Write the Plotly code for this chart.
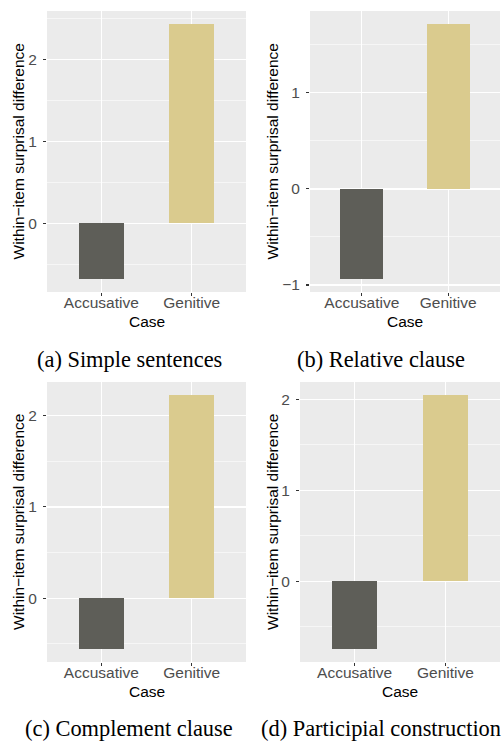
import plotly.graph_objects as go

cases = ["Accusative", "Genitive"]
simple_sentences = [-0.68, 2.43]
relative_clause = [-0.94, 1.72]
complement_clause = [-0.56, 2.23]
participial_construction = [-0.75, 2.05]
bar_colors = ["#5E5E58", "#DACB8E"]

panels = [
    ("(a) Simple sentences", simple_sentences),
    ("(b) Relative clause", relative_clause),
    ("(c) Complement clause", complement_clause),
    ("(d) Participial construction", participial_construction),
]

W, H = 502, 741
# plot-area boxes in pixels: (left, right, top, bottom)
boxes = [(47, 246, 11, 292), (310, 500, 11, 292), (47, 246, 382, 662), (300, 500, 382, 662)]
ytitle_x = [18, 272, 18, 272]
caption_pos = [(129, 359), (381, 359), (129, 728), (381, 728)]

SANS = "Liberation Sans, Arial, Helvetica, sans-serif"
SERIF = "Liberation Serif, Times New Roman, serif"

fig = go.Figure()
annotations = []
for i, ((caption, vals), (l, r, t, b)) in enumerate(zip(panels, boxes)):
    n = "" if i == 0 else str(i + 1)
    fig.add_trace(go.Bar(
        x=cases, y=vals, width=0.5, marker=dict(color=bar_colors, line=dict(width=0)),
        xaxis="x" + n, yaxis="y" + n, showlegend=False, hoverinfo="skip",
    ))
    lo = min(min(vals), 0)
    hi = max(max(vals), 0)
    pad = 0.05 * (hi - lo)
    fig.update_layout(**{
        "xaxis" + n: dict(
            domain=[l / W, r / W], anchor="y" + n, type="category", automargin=False,
            range=[-0.6, 1.6], showgrid=True, gridcolor="white", gridwidth=1.1,
            ticks="outside", ticklen=3, tickwidth=1.07, tickcolor="#333333",
            ticklabelstandoff=-7,
            tickfont=dict(family=SANS, size=15.5, color="#4D4D4D"),
            showline=False, zeroline=False, fixedrange=True,
        ),
        "yaxis" + n: dict(
            domain=[1 - b / H, 1 - t / H], anchor="x" + n, automargin=False,
            range=[lo - pad, hi + pad], tick0=0, dtick=1,
            showgrid=True, gridcolor="white", gridwidth=1.1,
            minor=dict(dtick=0.5, tick0=0, showgrid=True, gridcolor="white", gridwidth=0.55, ticklen=0),
            ticks="outside", ticklen=3, tickwidth=1.07, tickcolor="#333333",
            ticklabelstandoff=3,
            tickfont=dict(family=SANS, size=15.5, color="#4D4D4D"),
            tickformat="d", zeroline=False, showline=False, fixedrange=True,
        ),
    })
    annotations.append(dict(
        text="Within\u2212item surprisal difference", xref="paper", yref="paper",
        x=ytitle_x[i] / W, y=1 - (t + b) / 2 / H, textangle=-90,
        xanchor="center", yanchor="middle", showarrow=False,
        font=dict(family=SANS, size=15.5, color="black"),
    ))
    annotations.append(dict(
        text="Case", xref="paper", yref="paper",
        x=(l + r) / 2 / W, y=1 - (b + 29) / H,
        xanchor="center", yanchor="middle", showarrow=False,
        font=dict(family=SANS, size=15.5, color="black"),
    ))
    cx, cy = caption_pos[i]
    annotations.append(dict(
        text=caption, xref="paper", yref="paper",
        x=cx / W, y=1 - cy / H, xanchor="center", yanchor="middle", showarrow=False,
        font=dict(family=SERIF, size=22.4, color="black"),
    ))

fig.update_layout(
    width=W, height=H, margin=dict(l=0, r=0, t=0, b=0, autoexpand=False),
    paper_bgcolor="white", plot_bgcolor="#EBEBEB",
    annotations=annotations, bargap=0, hovermode=False,
)
fig.write_html(
    "out.html",
    config={"displayModeBar": False, "staticPlot": True},
    post_script="document.body.style.margin='0';document.body.style.overflow='hidden';",
)
